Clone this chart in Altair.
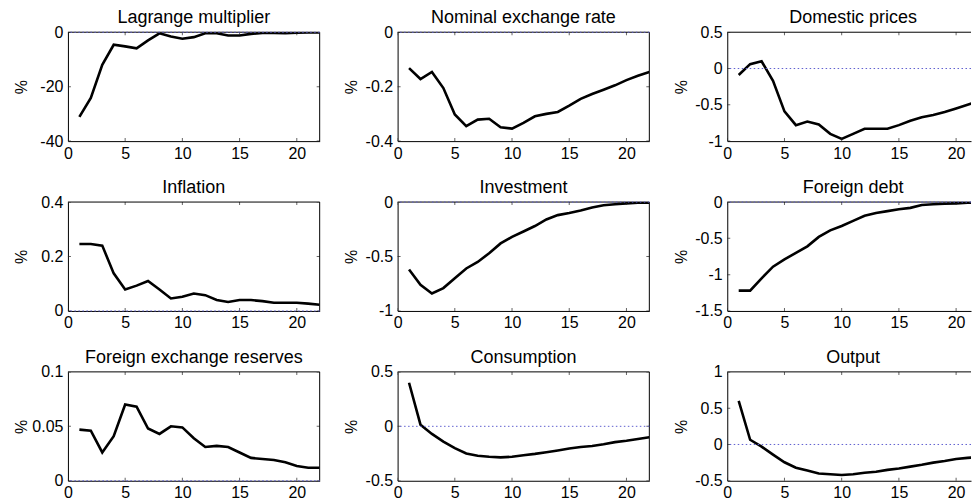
import altair as alt
import pandas as pd

periods = list(range(1, 23))
x_ticks = [0, 5, 10, 15, 20]

titles = ["Lagrange multiplier", "Nominal exchange rate", "Domestic prices",
          "Inflation", "Investment", "Foreign debt",
          "Foreign exchange reserves", "Consumption", "Output"]

lagrange = [-31.1, -24.1, -12.0, -4.6, -5.2, -5.9, -3.0, -0.4, -1.6, -2.4, -1.8,
            -0.4, -0.4, -1.2, -1.2, -0.6, -0.3, -0.3, -0.4, -0.2, -0.1, -0.1]
nominal_er = [-0.132, -0.172, -0.146, -0.205, -0.302, -0.345, -0.321, -0.318, -0.349, -0.354, -0.333,
              -0.309, -0.300, -0.293, -0.270, -0.245, -0.227, -0.211, -0.195, -0.176, -0.160, -0.146]
domestic_prices = [-0.09, 0.06, 0.10, -0.17, -0.59, -0.78, -0.73, -0.77, -0.90, -0.97, -0.90,
                   -0.83, -0.83, -0.83, -0.78, -0.72, -0.67, -0.64, -0.60, -0.55, -0.50, -0.45]
inflation = [0.246, 0.246, 0.240, 0.138, 0.079, 0.093, 0.110, 0.079, 0.046, 0.052, 0.064,
             0.058, 0.040, 0.033, 0.040, 0.040, 0.036, 0.030, 0.030, 0.030, 0.027, 0.023]
investment = [-0.62, -0.76, -0.84, -0.79, -0.70, -0.61, -0.55, -0.47, -0.38, -0.32, -0.27,
              -0.22, -0.16, -0.12, -0.10, -0.077, -0.05, -0.03, -0.02, -0.012, -0.006, -0.005]
foreign_debt = [-1.22, -1.22, -1.05, -0.89, -0.79, -0.70, -0.61, -0.48, -0.39, -0.33, -0.26,
                -0.19, -0.15, -0.125, -0.10, -0.08, -0.04, -0.03, -0.023, -0.018, -0.01, -0.005]
fx_reserves = [0.047, 0.046, 0.026, 0.041, 0.070, 0.068, 0.048, 0.043, 0.050, 0.049, 0.039,
               0.031, 0.032, 0.031, 0.026, 0.021, 0.020, 0.019, 0.017, 0.0136, 0.012, 0.012]
consumption = [0.40, 0.015, -0.07, -0.14, -0.20, -0.25, -0.27, -0.28, -0.285, -0.28, -0.265,
               -0.253, -0.238, -0.222, -0.204, -0.19, -0.18, -0.164, -0.145, -0.133, -0.117, -0.10]
output = [0.60, 0.065, -0.03, -0.14, -0.245, -0.32, -0.36, -0.40, -0.41, -0.42, -0.41,
          -0.39, -0.375, -0.35, -0.33, -0.305, -0.28, -0.25, -0.227, -0.20, -0.185, -0.17]

series = [lagrange, nominal_er, domestic_prices, inflation, investment, foreign_debt,
          fx_reserves, consumption, output]

y_domains = [[-40, 0], [-0.4, 0], [-1, 0.5], [0, 0.4], [-1, 0], [-1.5, 0],
             [0, 0.1], [-0.5, 0.5], [-0.5, 1]]
y_ticks = [[-40, -20, 0], [-0.4, -0.2, 0], [-1, -0.5, 0, 0.5], [0, 0.2, 0.4],
           [-1, -0.5, 0], [-1.5, -1, -0.5, 0], [0, 0.05, 0.1], [-0.5, 0, 0.5],
           [-0.5, 0, 0.5, 1]]

W, H = 252, 109
W_LAST = 244
X_MAX = 22
FONT = "Liberation Sans"


def panel(i):
    last_col = (i % 3 == 2)
    width = W_LAST if last_col else W
    xmax = X_MAX * W_LAST / W if last_col else X_MAX
    ydom = y_domains[i]
    xs = alt.Scale(domain=[0, xmax], nice=False, zero=False)
    ys = alt.Scale(domain=ydom, nice=False, zero=False)
    xax = alt.Axis(values=x_ticks, orient="bottom", labelFlush=False,
                   labelPadding=4, labelExpr="'' + datum.value")
    yax = alt.Axis(values=y_ticks[i], orient="left", labelFlush=False,
                   labelPadding=5, labelExpr="'' + datum.value",
                   minExtent=34, maxExtent=34, titlePadding=4)

    def X(field):
        return alt.X(field, scale=xs, axis=xax, title=None)

    def Y(field):
        return alt.Y(field, scale=ys, axis=yax, title="%")

    df = pd.DataFrame({"t": periods, "v": series[i]})
    line = alt.Chart(df).mark_line(color="black", strokeWidth=2.6, clip=True).encode(
        x=X("t:Q"), y=Y("v:Q"))

    zero = alt.Chart(pd.DataFrame({"z": [0]})).mark_rule(
        color="#5f5fd0", strokeWidth=1, strokeDash=[1.5, 2.5]
    ).encode(y=Y("z:Q"))

    # top border of the box, at the top of the y domain
    top_border = alt.Chart(pd.DataFrame({"b": [ydom[1]]})).mark_rule(
        color="black", strokeWidth=1
    ).encode(y=Y("b:Q"))

    xt = pd.DataFrame({"tick": [v for v in x_ticks if v <= xmax]})
    xtick_bot = alt.Chart(xt).mark_tick(orient="vertical", size=6, thickness=1,
                                        color="#222", clip=True).encode(
        x=X("tick:Q"),
        y=alt.YDatum(ydom[0], scale=ys, axis=yax, title="%"),
    )
    xtick_top = alt.Chart(xt).mark_tick(orient="vertical", size=6, thickness=1,
                                        color="#222", clip=True).encode(
        x=X("tick:Q"),
        y=alt.YDatum(ydom[1], scale=ys, axis=yax, title="%"),
    )

    yt = pd.DataFrame({"tick": y_ticks[i]})
    ytick_left = alt.Chart(yt).mark_tick(orient="horizontal", size=6, thickness=1,
                                         color="#222", clip=True).encode(
        y=Y("tick:Q"),
        x=alt.XDatum(0, scale=xs, axis=xax, title=None),
    )
    layers = [line, ytick_left, xtick_bot, xtick_top, top_border]
    if not last_col:
        ytick_right = alt.Chart(yt).mark_tick(orient="horizontal", size=6, thickness=1,
                                              color="#222", clip=True).encode(
            y=Y("tick:Q"),
            x=alt.XDatum(xmax, scale=xs, axis=xax, title=None),
        )
        right_border = alt.Chart(pd.DataFrame({"r": [xmax]})).mark_rule(
            color="black", strokeWidth=1
        ).encode(x=X("r:Q"))
        layers += [ytick_right, right_border]
    layers.append(zero)

    title = alt.TitleParams(titles[i], anchor="middle", offset=-3,
                            dx=(W - W_LAST) / 2 if last_col else 0)
    return alt.layer(*layers).properties(width=width, height=H, title=title)


panels = [panel(i) for i in range(9)]

chart = alt.concat(
    *panels, columns=3, spacing={"row": 61, "column": 78}, bounds="flush",
    align="each",
).properties(
    padding={"left": 6, "top": 1, "right": 0, "bottom": 0}
).configure_view(stroke=None).configure_axis(
    grid=False, ticks=False, labelFont=FONT, labelFontSize=16, labelColor="black",
    domainColor="black", domainWidth=1, titleFont=FONT, titleFontSize=16,
    titleFontWeight="normal", titleColor="black",
).configure_title(
    font=FONT, fontSize=18, fontWeight="normal", color="black"
)

chart.save("out.html", embed_options={"renderer": "svg", "actions": False})
